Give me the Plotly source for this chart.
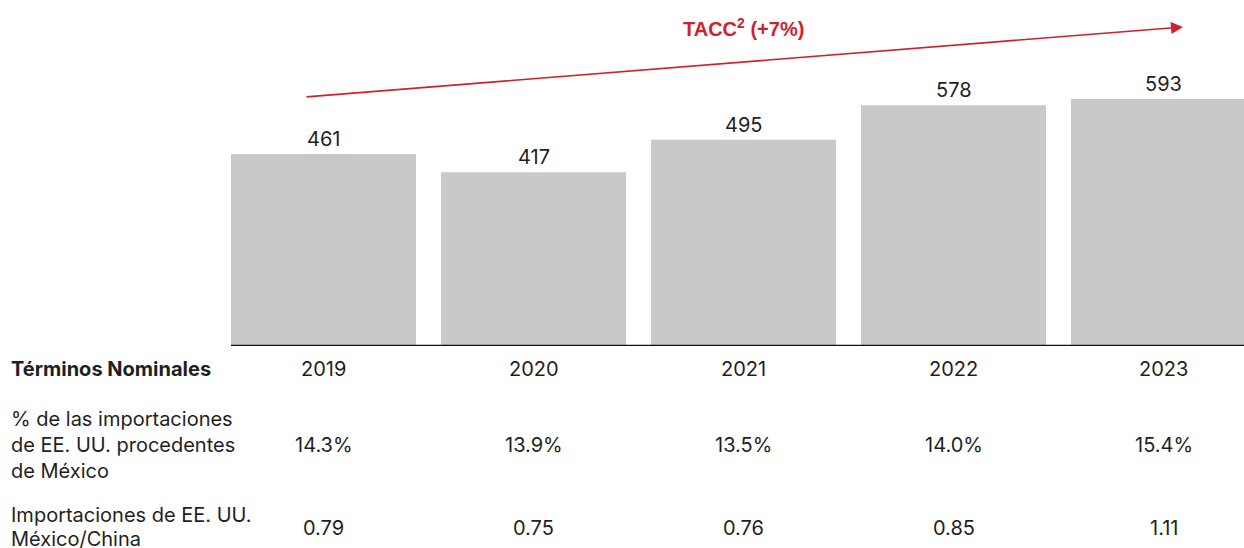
import plotly.graph_objects as go

years = ["2019", "2020", "2021", "2022", "2023"]
values = [461, 417, 495, 578, 593]
share_pct = ["14.3%", "13.9%", "13.5%", "14.0%", "15.4%"]
mx_cn_ratio = ["0.79", "0.75", "0.76", "0.85", "1.11"]

row_header = "Términos Nominales"
row2_label = ["% de las importaciones", "de EE. UU. procedentes", "de México"]
row3_label = ["Importaciones de EE. UU.", "México/China"]
cagr_label = "TACC<sup>2</sup> (+7%)"

W, H = 1244, 548
ML, MR, MT, MB = 218, 0, 10, 202
PLOT_H = H - MT - MB
PX_PER_UNIT = 0.4165
YMAX = PLOT_H / PX_PER_UNIT
X0_PX, PITCH = 323.5, 210.0
XMIN = (ML - X0_PX) / PITCH
XMAX = (W - MR - X0_PX) / PITCH

def py(p):  # pixel y -> paper y
    return (H - MB - p) / PLOT_H

def px(p):  # pixel x -> paper x
    return (p - ML) / (W - ML - MR)

def dx(p):
    return (p - X0_PX) / PITCH

def dy(p):
    return (H - MB - p) / PX_PER_UNIT

FONT = "Inter, Roboto, sans-serif"
FS = 20
TXT = "#1f1f1f"
RED = "#d0202e"

fig = go.Figure()
fig.add_trace(go.Bar(
    x=list(range(len(years))), y=values,
    marker=dict(color="#c9c9c9", line=dict(width=0)),
    width=185 / PITCH, hoverinfo="skip",
))

ann = []
for i, v in enumerate(values):
    ann.append(dict(x=i, y=v, xref="x", yref="y", text=str(v), showarrow=False,
                    yanchor="bottom", yshift=1, font=dict(family=FONT, size=FS, color=TXT)))
    ann.append(dict(x=i, y=py(369), xref="x", yref="paper", text=years[i], showarrow=False,
                    yanchor="middle", font=dict(family=FONT, size=FS, color=TXT)))
    ann.append(dict(x=i, y=py(445), xref="x", yref="paper", text=share_pct[i], showarrow=False,
                    yanchor="middle", font=dict(family=FONT, size=FS, color=TXT)))
    ann.append(dict(x=i, y=py(528), xref="x", yref="paper", text=mx_cn_ratio[i], showarrow=False,
                    yanchor="middle", font=dict(family=FONT, size=FS, color=TXT)))

ann.append(dict(x=px(9), y=py(369), xref="paper", yref="paper", text="<b>" + row_header + "</b>",
                showarrow=False, xanchor="left", yanchor="middle",
                font=dict(family=FONT, size=FS, color=TXT)))
for k, line in enumerate(row2_label):
    ann.append(dict(x=px(9), y=py(419 + 26 * k), xref="paper", yref="paper", text=line,
                    showarrow=False, xanchor="left", yanchor="middle",
                    font=dict(family=FONT, size=FS, color=TXT)))
for k, line in enumerate(row3_label):
    ann.append(dict(x=px(9), y=py(515 + 24 * k), xref="paper", yref="paper", text=line,
                    showarrow=False, xanchor="left", yanchor="middle",
                    font=dict(family=FONT, size=FS, color=TXT)))

# CAGR arrow
ann.append(dict(x=dx(1183), y=dy(27), ax=dx(305), ay=dy(97), xref="x", yref="y",
                axref="x", ayref="y", text="", showarrow=True, arrowhead=2,
                arrowsize=1.5, arrowwidth=1.6, arrowcolor=RED))
ann.append(dict(x=dx(743), y=py(27), xref="x", yref="paper", text="<b>" + cagr_label + "</b>",
                showarrow=False, yanchor="middle",
                font=dict(family="Liberation Sans, Arial", size=20, color=RED)))

fig.update_layout(
    width=W, height=H,
    margin=dict(l=ML, r=MR, t=MT, b=MB),
    paper_bgcolor="white", plot_bgcolor="white",
    showlegend=False,
    xaxis=dict(range=[XMIN, XMAX], visible=False, fixedrange=True),
    yaxis=dict(range=[0, YMAX], visible=False, fixedrange=True),
    annotations=ann,
    shapes=[dict(type="line", xref="x", yref="y", x0=dx(231), x1=XMAX, y0=0, y1=0,
                 line=dict(color="#111111", width=2.5))],
)

fig.write_html("out.html", config=dict(displayModeBar=False),
               post_script="document.body.style.margin='0';document.body.style.overflow='hidden';")
